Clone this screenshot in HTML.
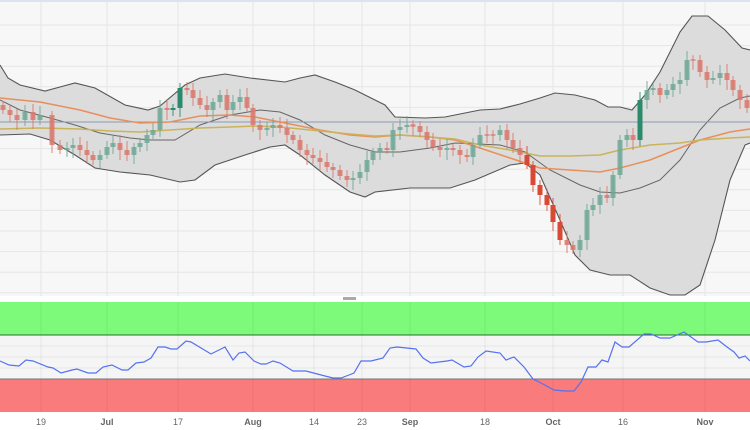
<!DOCTYPE html>
<html><head><meta charset="utf-8"><style>
html,body{margin:0;padding:0;background:#fff;}
svg{display:block;font-family:"Liberation Sans",sans-serif;}
</style></head><body>
<svg id="s" width="750" height="430" viewBox="0 0 750 430" xmlns="http://www.w3.org/2000/svg">
<rect x="0" y="0" width="750" height="296" fill="#f7f7f7"/>
<line x1="0" y1="1" x2="750" y2="1" stroke="#dde3ee" stroke-width="2"/>
<g id="grid" stroke="#e6e6e6" stroke-width="1"></g>
<path fill="#dadada" fill-opacity="0.95" stroke="none" d="M0,65 L8,78 L20,85 L45,91 L60,87 L75,83 L95,88 L125,105 L148,110 L160,106 L185,85 L200,78 L225,74 L250,78 L285,82 L300,78 L315,75 L335,82 L355,90 L375,100 L385,105 L395,117 L425,118 L445,117 L465,113 L480,110 L500,109 L520,104 L540,98 L555,93 L575,95 L595,100 L608,107 L620,107 L632,110 L645,95 L660,72 L680,32 L692,16 L708,16 L725,30 L742,48 L750,50 L750,143 L745,145 L730,180 L715,240 L700,285 L685,295 L670,295 L650,288 L630,275 L610,275 L590,270 L575,255 L560,220 L540,175 L525,163 L510,165 L475,180 L450,188 L410,188 L375,192 L365,197 L350,192 L325,175 L300,155 L285,145 L270,147 L245,155 L215,165 L195,180 L180,182 L150,175 L120,172 L95,168 L75,155 L50,140 L30,134 L0,135 Z"/>
<polyline fill="none" stroke="#555" stroke-width="1.1" points="0,65 8,78 20,85 45,91 60,87 75,83 95,88 125,105 148,110 160,106 185,85 200,78 225,74 250,78 285,82 300,78 315,75 335,82 355,90 375,100 385,105 395,117 425,118 445,117 465,113 480,110 500,109 520,104 540,98 555,93 575,95 595,100 608,107 620,107 632,110 645,95 660,72 680,32 692,16 708,16 725,30 742,48 750,50"/>
<polyline fill="none" stroke="#555" stroke-width="1.1" points="0,135 30,134 50,140 75,155 95,168 120,172 150,175 180,182 195,180 215,165 245,155 270,147 285,145 300,155 325,175 350,192 365,197 375,192 410,188 450,188 475,180 510,165 525,163 540,175 560,220 575,255 590,270 610,275 630,275 650,288 670,295 685,295 700,285 715,240 730,180 745,145 750,143"/>
<polyline fill="none" stroke="#666" stroke-width="1" points="0,100 20,110 50,118 75,125 100,133 130,138 150,140 175,140 200,125 230,115 260,110 280,112 300,120 325,135 350,145 375,152 400,152 430,148 455,143 500,145 525,152 550,170 580,185 600,192 620,193 640,188 660,180 680,160 700,130 720,108 740,98 750,96"/>
<line x1="0" y1="122" x2="750" y2="122" stroke="#8a9bb0" stroke-width="1"/>
<polyline fill="none" stroke="#e8905a" stroke-width="1.5" points="0,98 40,102 80,110 110,118 140,123 170,122 200,116 230,115 255,117 280,122 320,130 350,135 375,137 400,135 430,137 455,140 480,148 510,158 540,168 570,170 600,172 620,168 650,160 680,148 700,140 730,132 750,129"/>
<polyline fill="none" stroke="#c9b45a" stroke-width="1.5" points="0,129 40,128 80,129 110,131 140,132 170,130 200,128 230,127 255,126 280,127 320,131 350,134 375,136 400,135 430,137 455,139 480,145 510,150 540,156 570,156 600,155 620,150 650,145 680,143 700,140 730,138 750,137"/>
<g id="candles"></g>
<rect x="0" y="296" width="750" height="6" fill="#fff"/>
<rect x="343" y="297" width="13" height="3" fill="#aaa"/>
<rect x="0" y="302" width="750" height="33" fill="#7efa7a"/>
<rect x="0" y="335" width="750" height="44" fill="#f5f5f5"/>
<rect x="0" y="379" width="750" height="33" fill="#f97b7b"/>
<g id="grid2" stroke="#000" stroke-opacity="0.06" stroke-width="1"></g>
<line x1="0" y1="335" x2="750" y2="335" stroke="#2e6b2e" stroke-width="1"/>
<line x1="0" y1="379" x2="750" y2="379" stroke="#777" stroke-width="1"/>
<polyline fill="none" stroke="#5572f0" stroke-width="1.2" points="0,361 9,365 19,366 26,360 33,361 48,367 53,368 61,373 72,370 77,369 88,373 96,373 103,367 112,365 122,370 128,370 136,363 144,362 151,358 158,347 165,347 171,349 177,349 186,341 191,342 211,354 225,347 233,360 239,353 245,352 254,361 261,364 266,364 273,361 280,363 293,371 306,371 325,376 333,378 341,378 349,375 354,373 361,361 371,361 383,358 390,348 397,347 416,349 423,358 431,363 447,361 452,360 464,367 471,366 478,357 486,351 500,353 506,360 514,357 524,367 533,379 543,384 554,390 565,391 574,391 581,382 588,367 596,367 602,360 608,362 615,342 622,347 629,347 644,334 651,334 660,338 670,338 684,332 698,342 706,342 718,340 727,347 734,352 739,358 745,356 750,361"/>
<rect x="0" y="412" width="750" height="18" fill="#fff"/>
<g font-size="9" fill="#666" text-anchor="middle">
<text x="41" y="425">19</text><text x="107" y="425" font-weight="bold">Jul</text><text x="178" y="425">17</text>
<text x="253" y="425" font-weight="bold">Aug</text><text x="314" y="425">14</text><text x="362" y="425">23</text>
<text x="410" y="425" font-weight="bold">Sep</text><text x="485" y="425">18</text><text x="553" y="425" font-weight="bold">Oct</text>
<text x="623" y="425">16</text><text x="705" y="425" font-weight="bold">Nov</text>
</g>
</svg>
<script>
var NS="http://www.w3.org/2000/svg";
function el(p,t,a){var e=document.createElementNS(NS,t);for(var k in a)e.setAttribute(k,a[k]);p.appendChild(e);return e;}
var xs=[41,107,178,253,314,362,410,485,553,623,705];
var g=document.getElementById('grid'),g2=document.getElementById('grid2');
xs.forEach(function(x){el(g,'line',{x1:x,y1:2,x2:x,y2:296});el(g2,'line',{x1:x,y1:302,x2:x,y2:412});});
for(var y=25;y<296;y+=20.6)el(g,'line',{x1:0,y1:y,x2:750,y2:y});
[346,357,368].forEach(function(y){el(g2,'line',{x1:0,y1:y,x2:750,y2:y});});
var c=[[3,110],[10,115],[17,120],[25,112],[33,120],[40,115],[52,145],[60,150],[67,148],[73,145],[80,150],[87,155],[93,160],[100,155],[107,147],[113,143],[120,150],[127,155],[134,147],[140,143],[147,135],[153,130],[160,108],[167,110],[173,108],[180,88],[187,90],[193,98],[200,105],[207,110],[213,102],[220,95],[227,110],[233,102],[240,97],[247,108],[253,125],[260,130],[267,128],[273,125],[280,128],[287,135],[293,140],[300,150],[307,155],[313,158],[320,162],[327,167],[333,170],[340,176],[347,180],[353,178],[360,172],[367,160],[373,152],[380,148],[387,150],[393,130],[400,127],[407,125],[413,126],[420,132],[427,140],[433,147],[440,150],[447,148],[453,150],[460,155],[467,157],[473,145],[480,135],[487,135],[493,135],[500,130],[507,140],[513,148],[520,155],[527,165],[533,185],[540,195],[547,205],[553,222],[560,240],[567,245],[573,250],[580,240],[587,210],[593,205],[600,195],[607,198],[613,175],[620,140],[627,135],[633,140],[640,100],[647,90],[653,88],[660,95],[667,90],[673,84],[680,80],[687,60],[693,60],[700,72],[707,80],[713,78],[720,73],[727,80],[733,90],[740,100],[747,108]];
var cg=document.getElementById('candles');var prev=105;
c.forEach(function(d,i){var x=d[0],cl=d[1],op=prev;prev=cl;var up=cl<op;
var col=up?'#6fa896':'#d9786c';var strong=(x>=527&&x<=560)||(x==180)||(x==173)||(x==640);
if(strong)col=up?'#2b8a6c':'#d84a33';
var top=Math.min(op,cl),bot=Math.max(op,cl);if(bot-top<1.5){top-=0.75;bot+=0.75;}
var hw=4+((i*7)%6),lw=4+((i*3)%7);
el(cg,'line',{x1:x,y1:top-hw,x2:x,y2:bot+lw,stroke:col,'stroke-width':1,'stroke-opacity':0.9});
el(cg,'rect',{x:x-2.5,y:top,width:5,height:bot-top,fill:col,'fill-opacity':strong?1:0.85});});
</script>
</body></html>
